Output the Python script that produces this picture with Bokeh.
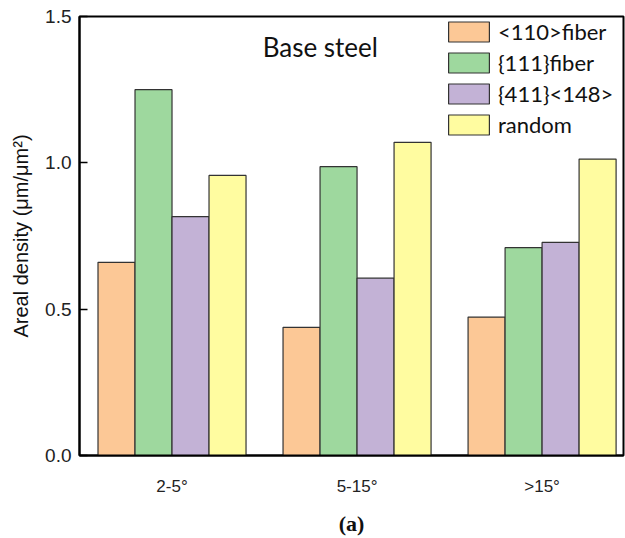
from bokeh.plotting import figure
from bokeh.embed import file_html
from bokeh.resources import INLINE
from bokeh.models import FixedTicker, Range1d, Label, CustomJSTickFormatter

categories = ["2-5°", "5-15°", ">15°"]
series_names = ["<110>fiber", "{111}fiber", "{411}<148>", "random"]
fiber110 = [0.66, 0.438, 0.473]
fiber111 = [1.25, 0.987, 0.710]
t411_148 = [0.816, 0.606, 0.728]
random_ = [0.957, 1.07, 1.013]
series = [fiber110, fiber111, t411_148, random_]
colors = ["#FCC896", "#9ED89E", "#C3B2D6", "#FFFCA0"]
yticks = [0.0, 0.5, 1.0, 1.5]

p = figure(width=625, height=538, output_backend="svg", toolbar_location=None,
           x_range=Range1d(0.5, 3.44), y_range=Range1d(0, 1.5),
           min_border_left=79, min_border_right=2, min_border_top=16, min_border_bottom=75)

xs = [i + 1 for i in range(len(categories))]
bw = 0.2
for k, (vals, name, col) in enumerate(zip(series, series_names, colors)):
    off = (k - 1.5) * bw
    p.vbar(x=[x + off for x in xs], top=vals, width=bw, bottom=0,
           fill_color=col, line_color="#333333", line_width=1.2, legend_label=name)

p.grid.visible = False
p.outline_line_color = "black"
p.outline_line_width = 2

ya = p.yaxis[0]
ya.ticker = FixedTicker(ticks=yticks)
ya.formatter = CustomJSTickFormatter(code="return tick.toFixed(1);")
ya.minor_tick_line_color = None
ya.major_tick_in = 8
ya.major_tick_out = 0
ya.axis_line_width = 2
ya.major_tick_line_width = 1.5
ya.major_label_text_font = "Liberation Sans"
ya.major_label_text_font_size = "19px"
ya.major_label_text_color = "#222222"
ya.major_label_standoff = 8
ya.axis_label = "Areal density (μm/μm²)"
ya.axis_label_text_font = "Liberation Sans"
ya.axis_label_text_font_style = "normal"
ya.axis_label_text_font_size = "20px"
ya.axis_label_text_color = "#111111"
ya.axis_label_standoff = 10

xa = p.xaxis[0]
xa.ticker = FixedTicker(ticks=xs)
xa.major_label_overrides = {x: c for x, c in zip(xs, categories)}
xa.major_tick_line_color = None
xa.minor_tick_line_color = None
xa.axis_line_width = 2
xa.major_label_text_font = "Liberation Sans"
xa.major_label_text_font_size = "17px"
xa.major_label_text_color = "#222222"
xa.major_label_standoff = 15
xa.axis_label = "(a)"
xa.axis_label_text_font = "Liberation Serif"
xa.axis_label_text_font_style = "bold"
xa.axis_label_text_font_size = "22px"
xa.axis_label_text_color = "#111111"
xa.axis_label_standoff = 12

p.add_layout(Label(x=1.49, y=1.395, text="Base steel", text_font="Lato",
                   text_font_size="26px", text_color="#111111", text_baseline="middle"))

lg = p.legend[0]
lg.location = (364, 317)
lg.padding = 0
lg.margin = 0
lg.spacing = 4
lg.glyph_width = 51
lg.glyph_height = 25
lg.label_standoff = 4
lg.label_height = 25
lg.label_text_font = "Lato"
lg.label_text_font_size = "22px"
lg.label_text_color = "#111111"
lg.background_fill_alpha = 0
lg.border_line_color = None

open("out.html", "w").write(file_html(p, INLINE))
